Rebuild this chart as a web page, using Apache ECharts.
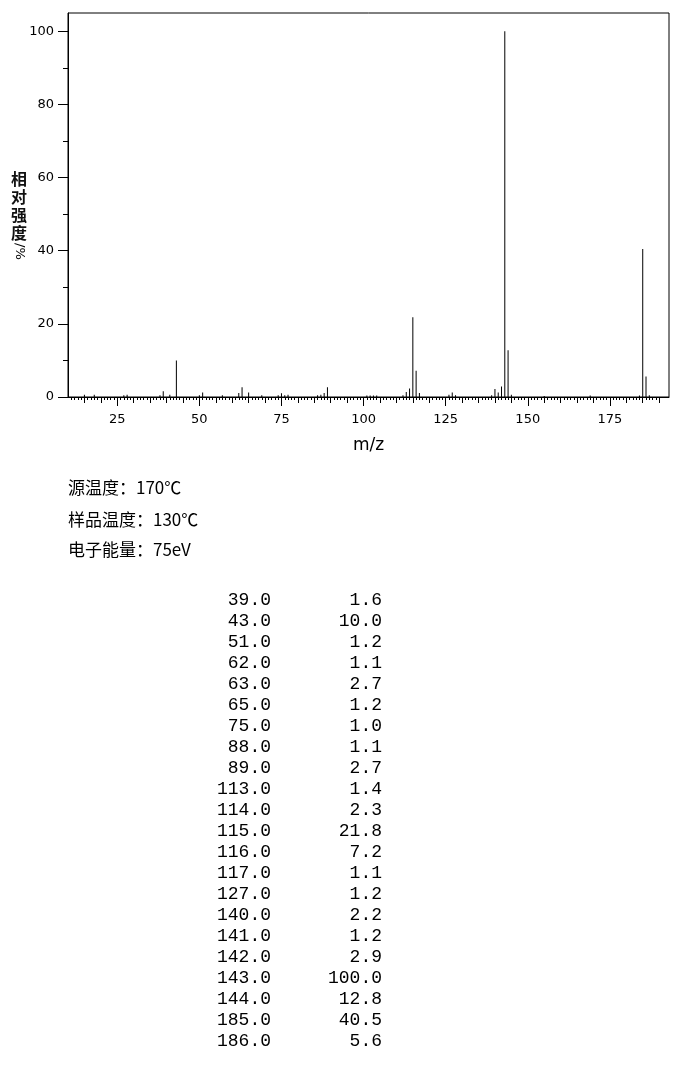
<!DOCTYPE html>
<html><head><meta charset="utf-8">
<script src="https://cdn.jsdelivr.net/npm/echarts@6/dist/echarts.min.js"></script>
<style>html,body{margin:0;padding:0;background:#fff}#c{width:680px;height:1077px}</style>
</head><body><div id="c"></div>
<script>
// Peaks listed in the table (m/z, relative intensity %)
const mz = [39,43,51,62,63,65,75,88,89,113,114,115,116,117,127,140,141,142,143,144,185,186];
const intensity = [1.6,10.0,1.2,1.1,2.7,1.2,1.0,1.1,2.7,1.4,2.3,21.8,7.2,1.1,1.2,2.2,1.2,2.9,100.0,12.8,40.5,5.6];
// Small peaks (<1%) visible in the plot, estimated
const minorMz = [15,18,27,28,38,41,50,57,69,74,76,77,86,87,101,102,103,104,112,126,128,139,145,155,169,184,187];
const minorIntensity = [0.6,0.6,0.5,0.6,0.5,0.6,0.5,0.5,0.5,0.5,0.5,0.6,0.5,0.6,0.4,0.4,0.4,0.4,0.5,0.6,0.5,0.5,0.6,0.3,0.4,0.4,0.5];
const xLabels = [25,50,75,100,125,150,175];
const yLabels = [0,20,40,60,80,100];
const infoLines = ['源温度：170℃','样品温度：130℃','电子能量：75eV'];
const yName = '相\n对\n强\n度';

const minorTicks = []; for (let v = 11; v <= 190; v++) minorTicks.push(v);
const midTicks = []; for (let v = 15; v <= 190; v += 5) midTicks.push(v);
const yMinor = [10,30,50,70,90];

const peaks = [];
mz.forEach((m,i)=>peaks.push([m,intensity[i]]));
minorMz.forEach((m,i)=>peaks.push([m,minorIntensity[i]]));

const numFont = 'DejaVu Sans';
const hidden = {show:false};
function auxX(ticks,len){
  return {type:'value',min:10,max:193,gridIndex:0,position:'bottom',offset:0,axisLine:{show:false},splitLine:hidden,axisLabel:{show:false,customValues:ticks},
    axisTick:{show:true,length:len,inside:false,customValues:ticks,lineStyle:{color:'#000',width:1}}};
}
const graphic = [];
graphic.push({type:'text',left:11,top:170,style:{text:yName,font:'bold 16px "Noto Sans CJK SC"',fill:'#111',lineHeight:18}});
graphic.push({type:'text',x:13,y:243,rotation:-Math.PI/2,style:{text:'/%',font:'13px "DejaVu Sans"',fill:'#000',textAlign:'left',textVerticalAlign:'bottom'}});
const infoY = [488,520,550];
infoLines.forEach((t,i)=>graphic.push({type:'text',x:68,y:infoY[i],style:{text:t,font:'17px "Noto Sans CJK SC"',fill:'#000',textVerticalAlign:'middle'}}));
mz.forEach((m,i)=>{
  const y = 600 + i*21;
  graphic.push({type:'text',x:271,y:y,style:{text:m.toFixed(1),font:'18px "Liberation Mono"',fill:'#000',textAlign:'right',textVerticalAlign:'middle'}});
  graphic.push({type:'text',x:382,y:y,style:{text:intensity[i].toFixed(1),font:'18px "Liberation Mono"',fill:'#000',textAlign:'right',textVerticalAlign:'middle'}});
});

const chart = echarts.init(document.getElementById('c'),null,{renderer:'canvas'});
chart.setOption({
  animation:false,
  backgroundColor:'#fff',
  grid:{left:68,right:11,top:13,bottom:680,show:true,borderColor:'#000',borderWidth:1,backgroundColor:'transparent'},
  xAxis:[
    {type:'value',min:10,max:193,position:'bottom',name:'m/z',nameLocation:'middle',nameGap:40,
     nameTextStyle:{fontFamily:numFont,fontSize:17,color:'#000'},
     axisLine:{show:true,lineStyle:{color:'#000',width:1}},splitLine:hidden,
     axisTick:{show:true,length:9,customValues:xLabels,lineStyle:{color:'#000'}},
     axisLabel:{customValues:xLabels,margin:16,fontFamily:numFont,fontSize:13,color:'#000'}},
    auxX(midTicks,6),
    auxX(minorTicks,3)
  ],
  yAxis:[
    {type:'value',min:0,max:105,position:'left',axisLine:{show:true,lineStyle:{color:'#000'}},splitLine:hidden,
     axisTick:{show:true,length:10,customValues:yLabels,lineStyle:{color:'#000'}},
     axisLabel:{customValues:yLabels,margin:14,fontFamily:numFont,fontSize:13,color:'#000'}},
    {type:'value',min:0,max:105,position:'left',offset:0,axisLine:{show:false},splitLine:hidden,
     axisTick:{show:true,length:5,customValues:yMinor,lineStyle:{color:'#000'}},
     axisLabel:{show:false,customValues:yMinor}}
  ],
  series:[{type:'bar',xAxisIndex:0,yAxisIndex:0,data:peaks,barWidth:1,itemStyle:{color:'#000'},silent:true}],
  graphic:graphic
});
</script></body></html>
